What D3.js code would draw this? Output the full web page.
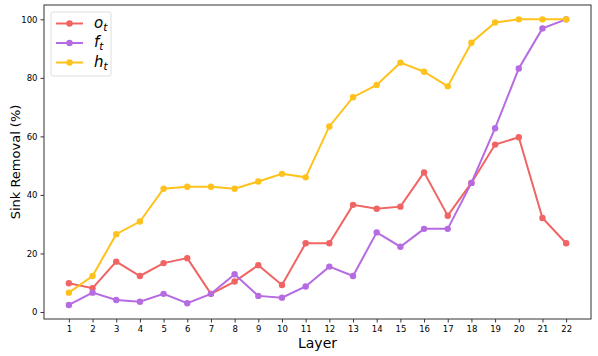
<!DOCTYPE html>
<html>
<head>
<meta charset="utf-8">
<script src="https://cdn.jsdelivr.net/npm/d3@7"></script>
<style>
  body { margin: 0; background: #fff; }
  text { font-family: "DejaVu Sans", sans-serif; }
</style>
</head>
<body>
<script>
// layers and the three series (percent of sink removed)
var layers = d3.range(1, 23);
var oVals = [9.8, 8.1, 17.2, 12.3, 16.7, 18.4, 6.2, 10.4, 16.0, 9.2, 23.5,
             23.5, 36.6, 35.3, 36.0, 47.7, 32.9, 44.1, 57.2, 59.7, 32.1, 23.5];
var fVals = [2.4, 6.6, 4.1, 3.5, 6.2, 3.0, 6.2, 12.9, 5.5, 4.9, 8.7,
             15.5, 12.3, 27.2, 22.3, 28.4, 28.4, 44.1, 62.8, 83.2, 96.9, 100];
var hVals = [6.6, 12.3, 26.6, 30.9, 42.1, 42.8, 42.8, 42.1, 44.6, 47.2, 46.0,
             63.4, 73.4, 77.6, 85.2, 82.1, 77.1, 92.0, 98.9, 100, 100, 100];
var yTicks = [0, 20, 40, 60, 80, 100];

var seriesNames = ["o", "f", "h"];
var colors = ["#f06464", "#b66be2", "#ffc21c"];
var allVals = [oVals, fVals, hVals];

var width = 598,
	height = 356;

// plot box edges ("top" is taken by window.top, so use other names)
var plotL = 44, plotR = 591, plotT = 5, plotB = 319;

var svg = d3.select("body").append("svg")
	.attr("width", width)
	.attr("height", height);

var xScale = d3.scaleLinear()
	.domain([-0.05, 23.05])
	.range([plotL, plotR]);

var yScale = d3.scaleLinear()
	.domain([-2.4, 104.9])
	.range([plotB, plotT]);

// axes
var xAxis = d3.axisBottom(xScale).tickValues(layers).tickSize(3.5).tickPadding(3);
var yAxis = d3.axisLeft(yScale).tickValues(yTicks).tickSize(3.5).tickPadding(3);

var gx = svg.append("g")
	.attr("transform", "translate(0," + plotB + ")")
	.call(xAxis);
var gy = svg.append("g")
	.attr("transform", "translate(" + plotL + ",0)")
	.call(yAxis);

[gx, gy].forEach(function(g){
	g.select(".domain").remove();
	g.selectAll("text").style("font-size", "8.5px").attr("fill", "#000");
	g.selectAll("line").attr("stroke", "#000").attr("stroke-width", 0.8);
});

// frame
svg.append("rect")
	.attr("x", plotL)
	.attr("y", plotT)
	.attr("width", plotR - plotL)
	.attr("height", plotB - plotT)
	.attr("fill", "none")
	.attr("stroke", "#333")
	.attr("stroke-width", 1);

var line = d3.line()
	.x(function(d, i){ return xScale(layers[i]); })
	.y(function(d){ return yScale(d); });

allVals.forEach(function(vals, k){
	svg.append("path")
		.datum(vals)
		.attr("d", line)
		.attr("fill", "none")
		.attr("stroke", colors[k])
		.attr("stroke-width", 2);

	svg.selectAll(".dot" + k)
		.data(vals)
		.enter()
		.append("circle")
			.attr("class", "dot" + k)
			.attr("cx", function(d, i){ return xScale(layers[i]); })
			.attr("cy", function(d){ return yScale(d); })
			.attr("r", 3.2)
			.attr("fill", colors[k]);
});

// axis labels
svg.append("text")
	.attr("x", (plotL + plotR) / 2)
	.attr("y", 348)
	.attr("text-anchor", "middle")
	.style("font-size", "14px")
	.text("Layer");

svg.append("text")
	.attr("transform", "translate(20," + ((plotT + plotB) / 2) + ") rotate(-90)")
	.attr("text-anchor", "middle")
	.style("font-size", "13px")
	.text("Sink Removal (%)");

// legend
var legend = svg.append("g");
legend.append("rect")
	.attr("x", 51)
	.attr("y", 12)
	.attr("width", 60)
	.attr("height", 64)
	.attr("rx", 2)
	.attr("fill", "#fff")
	.attr("stroke", "#d6d6d6")
	.attr("stroke-width", 0.8);

seriesNames.forEach(function(name, k){
	var y = 23.5 + k * 19.5;
	legend.append("line")
		.attr("x1", 56).attr("x2", 83)
		.attr("y1", y).attr("y2", y)
		.attr("stroke", colors[k])
		.attr("stroke-width", 2);
	legend.append("circle")
		.attr("cx", 69.5).attr("cy", y).attr("r", 3.2)
		.attr("fill", colors[k]);
	var t = legend.append("text")
		.attr("x", 94)
		.attr("y", y + 4)
		.style("font-size", "15px")
		.style("font-style", "italic");
	t.append("tspan").text(name);
	t.append("tspan")
		.attr("dy", 3)
		.style("font-size", "10.5px")
		.text("t");
});
</script>
</body>
</html>
